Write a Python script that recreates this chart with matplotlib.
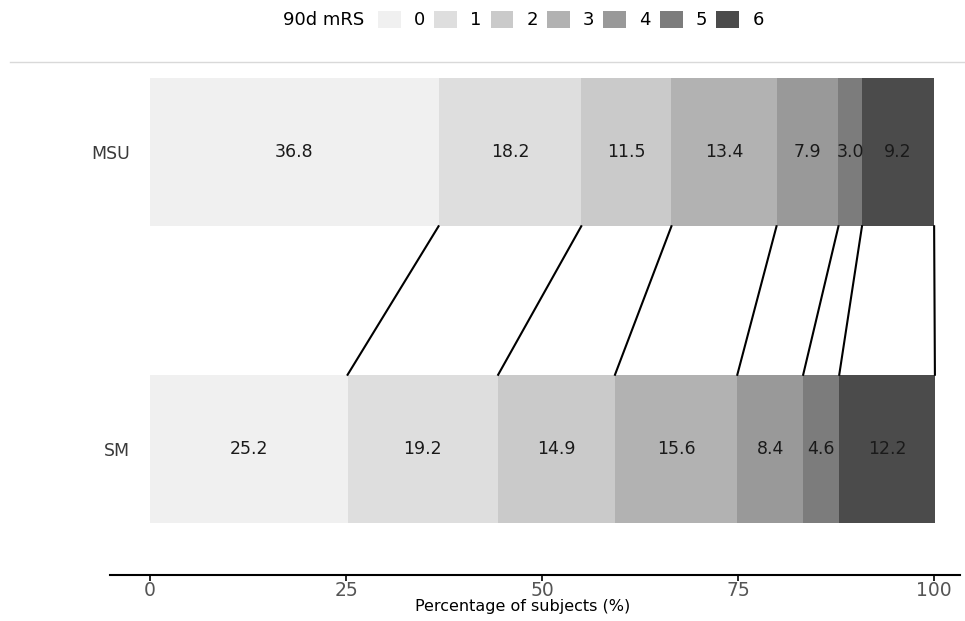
import numpy as np
import matplotlib.pyplot as plt
from matplotlib.patches import Patch
from matplotlib.lines import Line2D

plt.rcParams['font.family'] = ['DejaVu Sans']

# data
groups = ["MSU", "SM"]
mrs_levels = ["0", "1", "2", "3", "4", "5", "6"]
msu_pct = [36.8, 18.2, 11.5, 13.4, 7.9, 3.0, 9.2]
sm_pct = [25.2, 19.2, 14.9, 15.6, 8.4, 4.6, 12.2]
colors = ["#f0f0f0", "#dedede", "#cacaca", "#b2b2b2", "#999999", "#7c7c7c", "#4b4b4b"]

fig = plt.figure(figsize=(9.65, 6.21), dpi=100)
ax = fig.add_axes([110 / 965, 46 / 621, 850 / 965, 513 / 621])

ypos = {"MSU": 2, "SM": 1}
bar_h = 0.5
series = {"MSU": msu_pct, "SM": sm_pct}

for g in groups:
    vals = np.array(series[g])
    lefts = np.concatenate([[0], np.cumsum(vals)[:-1]])
    ax.barh(ypos[g], vals, left=lefts, height=bar_h, color=colors, edgecolor='none')
    for l, v in zip(lefts, vals):
        ax.text(l + v / 2, ypos[g], f"{v:.1f}", ha='center', va='center', fontsize=12.5, color='#1a1a1a')

# connecting lines between cumulative boundaries
cum_top = np.cumsum(msu_pct)
cum_bot = np.cumsum(sm_pct)
for a, b in zip(cum_top, cum_bot):
    ax.plot([a, b], [ypos["MSU"] - bar_h / 2, ypos["SM"] + bar_h / 2], color='black', lw=1.5)

ax.set_xlim(-5.1, 103.3)
ax.set_ylim(1 - 126 / 297, 2 + 90 / 297)
ax.set_yticks([ypos[g] for g in groups])
ax.set_yticklabels(groups, fontsize=12.5, color='#3a3a3a')
ax.set_xticks([0, 25, 50, 75, 100])
ax.set_xticklabels(["0", "25", "50", "75", "100"], fontsize=13.5, color='#555555')
ax.tick_params(axis='y', length=0, pad=-14.5)
ax.tick_params(axis='x', length=4, width=1.2, color='black', pad=0)
ax.set_xlabel("Percentage of subjects (%)", fontsize=11.5)
ax.xaxis.set_label_coords((523 - 110) / 850, -24 / 513)
for s in ['top', 'right', 'left']:
    ax.spines[s].set_visible(False)
ax.spines['bottom'].set_linewidth(1.5)

# thin grey line under legend
fig.add_artist(Line2D([10 / 965, 1], [1 - 62 / 621] * 2, color='#d9d9d9', lw=1))

handles = [Patch(facecolor=c, edgecolor='none') for c in colors]
fig.text(283 / 965, 1 - 20 / 621, "90d mRS", fontsize=13, va='center', ha='left')
fig.legend(handles, mrs_levels, loc='center left', bbox_to_anchor=(378 / 965, 1 - 20 / 621),
           ncol=7, frameon=False, fontsize=13, handlelength=1.27, handleheight=1.1,
           handletextpad=0.72, columnspacing=0.5, borderpad=0, borderaxespad=0)

plt.savefig("out.png", dpi=100)
